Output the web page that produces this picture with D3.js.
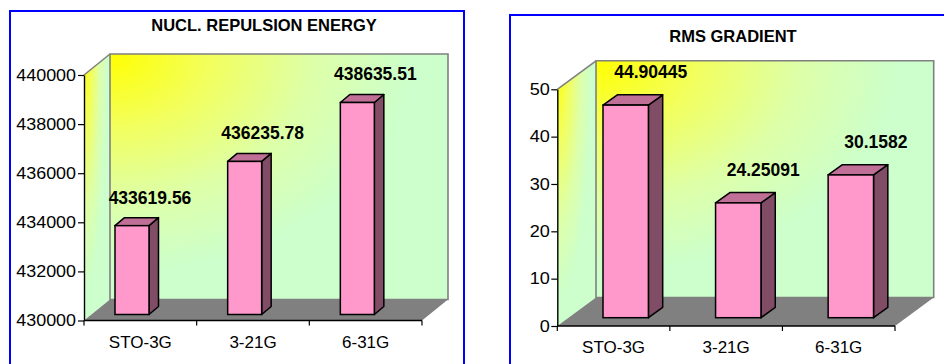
<!DOCTYPE html>
<html>
<head>
<meta charset="utf-8">
<script src="https://cdn.jsdelivr.net/npm/d3@7"></script>
<style>
  html, body { margin: 0; padding: 0; background: #fff; }
  svg { display: block; font-family: "Liberation Sans", Arial, sans-serif; }
</style>
</head>
<body>
<svg id="chart" width="944" height="364"></svg>
<script>
// Basis sets on the category axis
const categories = ["STO-3G", "3-21G", "6-31G"];

// Nuclear repulsion energy per basis set
const nuclValues = [433619.56, 436235.78, 438635.51];
const nuclTicks = [430000, 432000, 434000, 436000, 438000, 440000];

// RMS gradient per basis set
const rmsValues = [44.90445, 24.25091, 30.1582];
const rmsTicks = [0, 10, 20, 30, 40, 50];

const svg = d3.select("#chart");
const defs = svg.append("defs");

// Wall fill: yellow radiating from the top-left corner into pale green
const grad = defs.append("radialGradient")
  .attr("id", "wallFill")
  .attr("cx", 0).attr("cy", 0).attr("r", 1).attr("fx", 0).attr("fy", 0);
grad.append("stop").attr("offset", 0).attr("stop-color", "#FFFF00");
grad.append("stop").attr("offset", 0.3).attr("stop-color", "#F2FF5E");
grad.append("stop").attr("offset", 0.6).attr("stop-color", "#DDFFA8");
grad.append("stop").attr("offset", 0.9).attr("stop-color", "#CCFFCC");
grad.append("stop").attr("offset", 1).attr("stop-color", "#CCFFCC");

function drawChart(cfg) {
  const { title, values, ticks, layout: L } = cfg;
  const g = svg.append("g");

  // Outer frame
  g.append("rect")
    .attr("x", L.frame.x).attr("y", L.frame.y)
    .attr("width", L.frame.w).attr("height", L.frame.h)
    .attr("fill", "#fff").attr("stroke", "#0000FF").attr("stroke-width", 2);

  // Title
  g.append("text")
    .attr("x", L.title.x).attr("y", L.title.y)
    .attr("text-anchor", "middle")
    .attr("font-size", 16.5).attr("font-weight", "bold")
    .text(title);

  const x = d3.scaleBand().domain(categories).range([L.x0, L.x1]).paddingInner(0).paddingOuter(0);
  const y = d3.scaleLinear().domain([ticks[0], ticks[ticks.length - 1]]).range([L.yBottom, L.yTop]);

  const dx = L.depth.dx, dy = L.depth.dy;
  const yB = y(ticks[0]), yT = y(ticks[ticks.length - 1]);

  // Side wall
  g.append("polygon")
    .attr("points", [[L.x0, yT], [L.x0 + dx, yT + dy], [L.x0 + dx, yB + dy], [L.x0, yB]].join(" "))
    .attr("fill", "url(#wallFill)");
  // Back wall
  g.append("polygon")
    .attr("points", [[L.x0 + dx, yT + dy], [L.x1 + dx, yT + dy], [L.x1 + dx, yB + dy], [L.x0 + dx, yB + dy]].join(" "))
    .attr("fill", "url(#wallFill)")
    .attr("stroke", "#808080").attr("stroke-width", 1.6);
  // Side wall top edge
  g.append("line")
    .attr("x1", L.x0).attr("y1", yT).attr("x2", L.x0 + dx).attr("y2", yT + dy)
    .attr("stroke", "#808080").attr("stroke-width", 1.6);
  // Floor
  g.append("polygon")
    .attr("points", [[L.x0, yB], [L.x1, yB], [L.x1 + dx, yB + dy], [L.x0 + dx, yB + dy]].join(" "))
    .attr("fill", "#808080");

  // Value axis
  const sx = L.tickStretch;
  const yAxis = g.append("g")
    .attr("transform", `translate(${L.x0},0)`)
    .call(d3.axisLeft(y).tickValues(ticks).tickFormat(d3.format("d")).tickSize(6).tickSizeOuter(0));
  yAxis.select(".domain").attr("stroke", "#000").attr("stroke-width", 1.4);
  yAxis.selectAll(".tick line").attr("stroke", "#000").attr("stroke-width", 1.2);
  yAxis.selectAll(".tick text")
    .attr("x", -L.tickGap / sx)
    .attr("transform", `scale(${sx},1)`)
    .attr("font-size", 16).attr("fill", "#000")
    .attr("font-family", "'Liberation Sans', Arial, sans-serif");

  // Category axis: line, boundary ticks, centred labels
  const xAxis = g.append("g");
  xAxis.append("line")
    .attr("x1", L.x0).attr("x2", L.x1).attr("y1", yB).attr("y2", yB)
    .attr("stroke", "#000").attr("stroke-width", 1.6);
  const bounds = categories.map(c => x(c)).concat([L.x1]);
  xAxis.selectAll("line.tick").data(bounds).join("line")
    .attr("class", "tick")
    .attr("x1", d => d).attr("x2", d => d)
    .attr("y1", yB).attr("y2", yB + 5)
    .attr("stroke", "#000").attr("stroke-width", 1.2);
  xAxis.selectAll("text").data(categories).join("text")
    .attr("x", d => x(d) + x.bandwidth() / 2)
    .attr("y", yB + 27)
    .attr("text-anchor", "middle")
    .attr("font-size", 17)
    .text(d => d);

  // 3-D columns
  const B = L.bar;
  const rows = categories.map((c, i) => ({ c, v: values[i] }));
  const bars = g.selectAll("g.bar").data(rows).join("g").attr("class", "bar");
  const bx = d => x(d.c) + B.offset;
  const btop = d => y(d.v) + B.shiftDy;
  const bbot = yB + B.shiftDy;

  bars.append("polygon") // side face
    .attr("points", d => [[bx(d) + B.width, btop(d)], [bx(d) + B.width + B.dx, btop(d) + B.dy],
                          [bx(d) + B.width + B.dx, bbot + B.dy], [bx(d) + B.width, bbot]].join(" "))
    .attr("fill", "#804C66").attr("stroke", "#000").attr("stroke-width", 1.5).attr("stroke-linejoin", "round");
  bars.append("polygon") // top face
    .attr("points", d => [[bx(d), btop(d)], [bx(d) + B.width, btop(d)],
                          [bx(d) + B.width + B.dx, btop(d) + B.dy], [bx(d) + B.dx, btop(d) + B.dy]].join(" "))
    .attr("fill", "#C07096").attr("stroke", "#000").attr("stroke-width", 1.5).attr("stroke-linejoin", "round");
  bars.append("rect") // front face
    .attr("x", bx).attr("y", btop)
    .attr("width", B.width).attr("height", d => bbot - btop(d))
    .attr("fill", "#FF99CC").attr("stroke", "#000").attr("stroke-width", 1.5);

  // Value labels above each column
  bars.append("text")
    .attr("x", d => bx(d) + B.width / 2 + L.label.dx)
    .attr("y", d => btop(d) + B.dy - L.label.gap)
    .attr("text-anchor", "middle")
    .attr("font-size", 17.5).attr("font-weight", "bold")
    .text(d => String(d.v));
}

drawChart({
  title: "NUCL. REPULSION ENERGY",
  values: nuclValues,
  ticks: nuclTicks,
  layout: {
    frame: { x: 10, y: 11, w: 454, h: 420 },
    title: { x: 264, y: 31 },
    x0: 84, x1: 422, yBottom: 320.5, yTop: 75,
    depth: { dx: 26, dy: -21 },
    tickStretch: 1.12, tickGap: 8,
    bar: { offset: 31, width: 34, shiftDy: -6, dx: 9.5, dy: -8 },
    label: { dx: 18, gap: 14 }
  }
});

drawChart({
  title: "RMS GRADIENT",
  values: rmsValues,
  ticks: rmsTicks,
  layout: {
    frame: { x: 510, y: 15, w: 470, h: 420 },
    title: { x: 733, y: 41.7 },
    x0: 557.3, x1: 895, yBottom: 326, yTop: 89.3,
    depth: { dx: 38.7, dy: -28.5 },
    tickStretch: 1.13, tickGap: 7.5,
    bar: { offset: 45.7, width: 45.4, shiftDy: -8.3, dx: 14.3, dy: -10.3 },
    label: { dx: 25, gap: 17 }
  }
});
</script>
</body>
</html>
